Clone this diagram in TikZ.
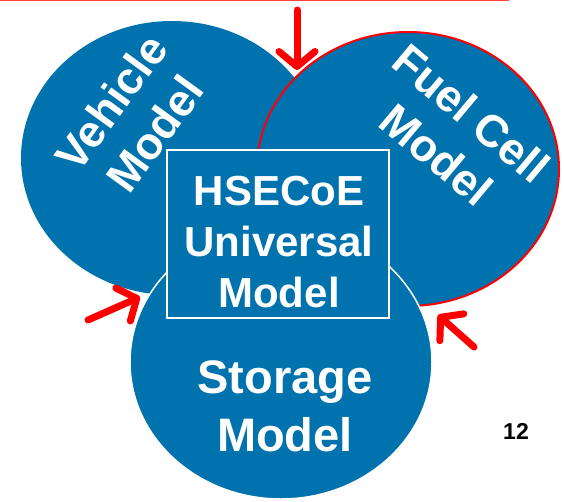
\documentclass[tikz,border=0pt]{standalone}
\usepackage{fontspec}
\setmainfont{Liberation Sans}
\usetikzlibrary{arrows.meta}
\usetikzlibrary{shapes.geometric}
\definecolor{modelblue}{RGB}{0,114,174}
\tikzset{
    model oval/.style={ellipse, fill=modelblue, minimum width=302pt, minimum height=274pt, inner sep=0pt},
    model text/.style={text=white, font=\bfseries\fontsize{45pt}{54pt}\selectfont, align=center, inner sep=0pt},
    feed arrow/.style={draw=red, line width=7pt, line cap=round,
        -{Straight Barb[length=15pt, width=36pt, round]}},
}

\begin{document}
\begin{tikzpicture}[x=1pt, y=-1pt]

    \useasboundingbox (0,0) rectangle (564,501);
    \draw[red!75, line width=1pt] (0,0.5) -- (509,0.5);

    % the three sub-models
    \node[model oval] (V) at (172,158) {};
    \node[model oval, draw=red, line width=2pt] (F) at (408,169) {};
    \node[model oval, draw=white, line width=1.5pt] (S) at (281,362) {};
    \node[draw=white, line width=1.5pt, fill=modelblue, minimum width=222pt,
        minimum height=168pt, inner sep=0pt] (U) at (278,234) {};

    \node[model text, rotate=54] (VT) at (133,118) {Vehicle\\Model};
    \node[model text, rotate=-40] (FT) at (454,134) {Fuel Cell\\Model};
    \node[model text, font=\bfseries\fontsize{47pt}{58pt}\selectfont] (ST) at (285,406) {Storage\\Model};
    \node[model text, font=\bfseries\fontsize{42pt}{51pt}\selectfont] (UT) at (279,242) {HSECoE\\Universal\\Model};
    \node[font=\bfseries\fontsize{23pt}{27pt}\selectfont] (P) at (516,431) {12};

    \coordinate (top tail) at (297,10);
    \coordinate (top tip) at (297,70);
    \coordinate (left tail) at (88,320);
    \coordinate (left tip) at (140,297);
    \coordinate (right tail) at (474,347);
    \coordinate (right tip) at (438,315);

    \draw[feed arrow] (top tail) -- (top tip);
    \draw[feed arrow] (left tail) -- (left tip);
    \draw[feed arrow] (right tail) -- (right tip);

\end{tikzpicture}
\end{document}
